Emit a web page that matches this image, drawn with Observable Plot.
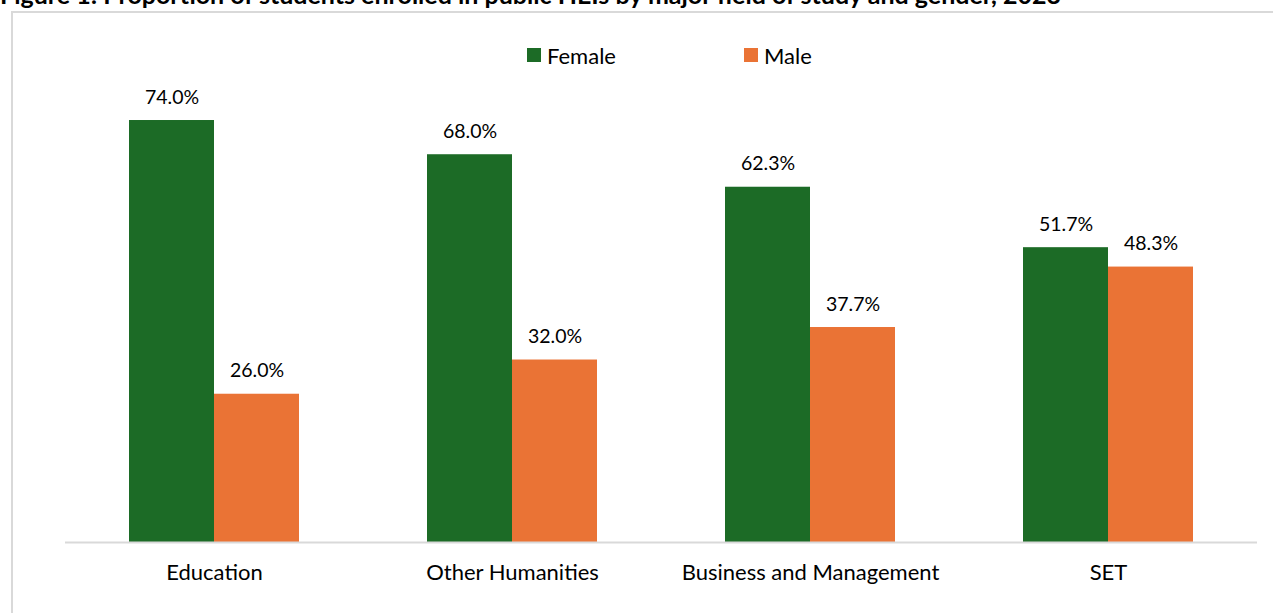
<!DOCTYPE html>
<html>
<head>
<meta charset="utf-8">
<script src="https://cdn.jsdelivr.net/npm/d3@7"></script>
<script src="https://cdn.jsdelivr.net/npm/@observablehq/plot@0.6"></script>
<style>
  html, body { margin: 0; padding: 0; background: #fff; overflow: hidden; }
  body { width: 1273px; height: 613px; position: relative; font-family: Lato, "Open Sans", sans-serif; color: #000; }
  #title { position: absolute; left: 0; top: -16px; font-weight: bold; font-size: 25px; line-height: 20px; white-space: nowrap; }
  #frame { position: absolute; left: 11px; top: 11px; width: 1400px; height: 700px; border: 2px solid #d9d9d9; box-sizing: border-box; }
  .leg { position: absolute; top: 41px; height: 28px; display: flex; align-items: center; font-size: 22px; }
  .leg span.sw { display: inline-block; width: 14px; height: 14px; margin-right: 6px; }
  #chart { position: absolute; left: 0; top: 70px; }
</style>
</head>
<body>
<div id="title">Figure 1: Proportion of students enrolled in public HEIs by major field of study and gender, 2023</div>
<div id="frame"></div>
<div id="legend"></div>
<div id="chart"></div>
<script>
const categories = ["Education", "Other Humanities", "Business and Management", "SET"];
const genders = ["Female", "Male"];
const femaleValues = [74.0, 68.0, 62.3, 51.7];
const maleValues = [26.0, 32.0, 37.7, 48.3];
const colors = ["#1c6b26", "#ea7335"];

const data = [];
categories.forEach((c, i) => {
  data.push({field: c, gender: "Female", value: femaleValues[i]});
  data.push({field: c, gender: "Male", value: maleValues[i]});
});

// legend
const legend = document.getElementById("legend");
const legLeft = [527, 744];
genders.forEach((g, i) => {
  const d = document.createElement("div");
  d.className = "leg";
  d.style.left = legLeft[i] + "px";
  d.innerHTML = `<span class="sw" style="background:${colors[i]}"></span>${g}`;
  legend.appendChild(d);
});

const chart = Plot.plot({
  width: 1273,
  height: 543,
  marginTop: 15.8,
  marginBottom: 71,
  marginLeft: 65,
  marginRight: 16,
  style: {fontFamily: "Lato, 'Open Sans', sans-serif", fontSize: "20px", color: "#000", background: "transparent"},
  fx: {domain: categories, padding: 0, label: null},
  x: {domain: genders, paddingInner: 0, paddingOuter: 0.743, axis: null},
  y: {domain: [0, 80], axis: null},
  color: {domain: genders, range: colors},
  marks: [
    Plot.barY(data, {fx: "field", x: "gender", y: "value", fill: "gender", inset: 0}),
    Plot.ruleY([0], {stroke: "#d9d9d9", strokeWidth: 2}),
    Plot.text(data, {fx: "field", x: "gender", y: "value", text: d => d.value.toFixed(1) + "%", dy: -17, lineAnchor: "bottom", fontSize: 19.5, fill: "#000"}),
    Plot.axisFx({anchor: "bottom", tickSize: 0, tickPadding: 22, fontSize: 22, label: null})
  ]
});
document.getElementById("chart").appendChild(chart);
</script>
</body>
</html>
